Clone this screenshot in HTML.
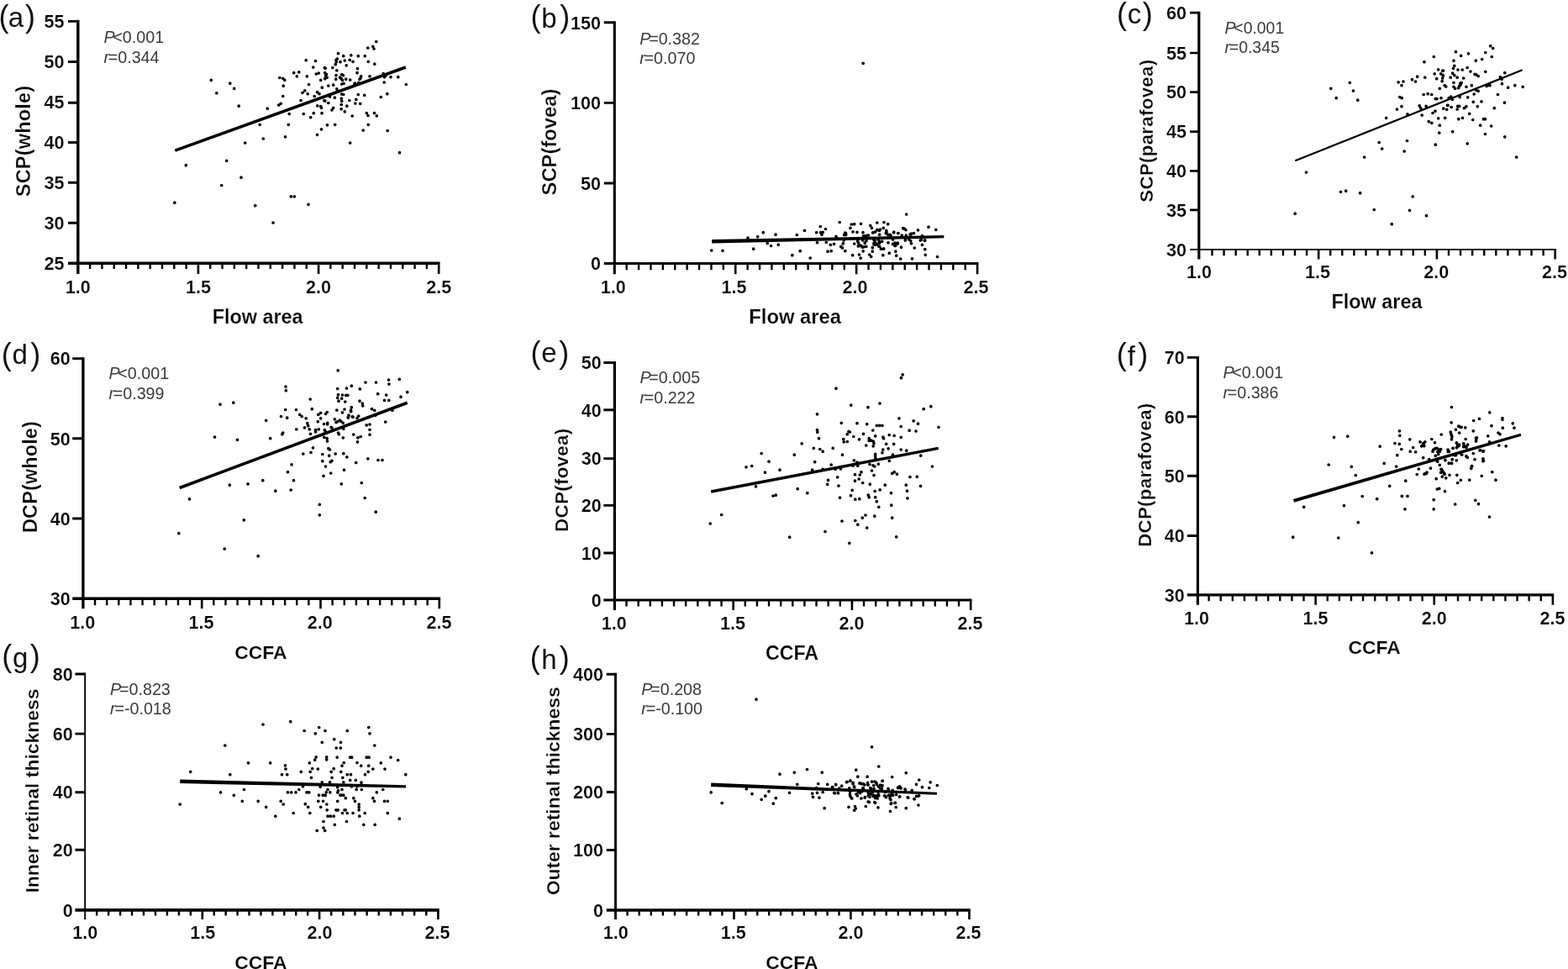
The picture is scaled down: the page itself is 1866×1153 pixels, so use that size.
<!DOCTYPE html>
<html lang="en">
<head>
<meta charset="utf-8">
<title>Correlation scatter plots</title>
<style>
html,body{margin:0;padding:0;background:#fff;}
body{width:1866px;height:1153px;overflow:hidden;}
svg{display:block;}
svg path{stroke:#000;fill:none;}
svg path.p{stroke-linecap:round;}
svg path.f{stroke:none;fill:#000;}
svg text{font-family:"Liberation Sans",sans-serif;fill:#000;}
svg .t, svg .t text{font-weight:bold;stroke:#fff;stroke-width:0.2px;}
svg .t.y{stroke-width:0.3px;}
svg .s text{fill:#3a3a3a;}
svg .g{fill:#111;}
</style>
</head>
<body>
<svg width="1866" height="1153" viewBox="0 0 1866 1153">
<rect width="1866" height="1153" fill="#fff"/>
<g id="panel-a">
<path d="M92.8 23.85V325.9" stroke-width="3.4"/>
<path d="M81 313.3H523.5" stroke-width="3.4"/>
<path d="M81 25.4H92.8M81 73.5H92.8M81 122.3H92.8M81 169.5H92.8M81 217.3H92.8M81 265.3H92.8" stroke-width="2.9"/>
<path d="M235.93 313.3V325.9M379.07 313.3V325.9M522.2 313.3V325.9" stroke-width="2.6"/>
<path d="M107.11 313.3V319.9M121.43 313.3V319.9M135.74 313.3V319.9M150.05 313.3V319.9M164.37 313.3V319.9M178.68 313.3V319.9M192.99 313.3V319.9M207.31 313.3V319.9M221.62 313.3V319.9M250.25 313.3V319.9M264.56 313.3V319.9M278.87 313.3V319.9M293.19 313.3V319.9M307.5 313.3V319.9M321.81 313.3V319.9M336.13 313.3V319.9M350.44 313.3V319.9M364.75 313.3V319.9M393.38 313.3V319.9M407.69 313.3V319.9M422.01 313.3V319.9M436.32 313.3V319.9M450.63 313.3V319.9M464.95 313.3V319.9M479.26 313.3V319.9M493.57 313.3V319.9M507.89 313.3V319.9" stroke-width="2.4"/>
<g class="t" font-size="21.6" text-anchor="end">
<text x="76.6" y="33.03">55</text>
<text x="76.6" y="81.03">50</text>
<text x="76.6" y="129.03">45</text>
<text x="76.6" y="177.03">40</text>
<text x="76.6" y="225.03">35</text>
<text x="76.6" y="273.03">30</text>
<text x="76.6" y="321.03">25</text>
</g>
<g class="t" font-size="21.6" text-anchor="middle">
<text x="92.8" y="348.9">1.0</text>
<text x="235.93" y="348.9">1.5</text>
<text x="379.07" y="348.9">2.0</text>
<text x="522.2" y="348.9">2.5</text>
</g>
<text class="t" font-size="23.4" text-anchor="middle" x="306.7" y="384.5">Flow area</text>
<text class="t y" font-size="23.5" text-anchor="middle" transform="translate(36 168) rotate(-90)" letter-spacing="0.18">SCP(whole)</text>
<g class="s" font-size="19.7">
<text x="123.4" y="50.9"><tspan font-style="italic">P</tspan><tspan dx="-2.2">&lt;0.001</tspan></text>
<text x="123.4" y="75.4"><tspan font-style="italic">r</tspan><tspan dx="-1.2">=0.344</tspan></text>
</g>
<text class="g" x="-1.6" y="32.2" font-size="33"><tspan font-size="36" dy="-0.7">(</tspan><tspan dy="0.7" dx="-0.6">a</tspan><tspan font-size="36" dy="-0.7" dx="1.8">)</tspan></text>
<path d="M208.3 179.2L482.8 80" stroke-width="3.5"/>
<path class="p" d="M447.8 49.5h0M437.8 57h0M443.8 55.3h0M445 58h0M402.5 63.7h0M408.7 66.7h0M417.8 65.8h0M426.3 66.7h0M434.2 66.7h0M364.2 71.7h0M375.5 72.5h0M401.3 70h0M400.3 73.7h0M405 73.7h0M410.3 72h0M416.2 71.3h0M420 73.3h0M438.3 73.3h0M445.8 76.2h0M372.8 80h0M386.3 80.5h0M395.8 80.5h0M399.2 76.7h0M412.2 77.8h0M425.5 81.7h0M400.8 83.8h0M349.7 86.7h0M355.8 85.8h0M353.3 90.8h0M365.3 90.8h0M376.3 88h0M379.2 87h0M386.7 86.7h0M387.5 90h0M400 89.7h0M406.7 88.7h0M425 86.7h0M429.7 90.8h0M440 90.8h0M456.2 87.5h0M457.5 91.7h0M465 91.7h0M473.8 91.7h0M251.3 95.3h0M332.8 92.5h0M336.7 93.3h0M338.8 95.3h0M381.7 95.3h0M386.7 93.7h0M399.7 94.2h0M406.2 93.7h0M407.5 95.3h0M411.7 94.2h0M416.7 95h0M428 94.2h0M273.8 99.2h0M278.7 105.3h0M337.2 102.2h0M367.5 100.5h0M390.8 102h0M396.7 101.2h0M406.7 100h0M422.5 99.2h0M426.7 98.3h0M457.2 98h0M483.3 100.5h0M383.3 104.2h0M400.8 105.8h0M257.8 110.8h0M360 110.3h0M362.8 107.8h0M366.2 111.7h0M377.5 109.7h0M380 111.7h0M374.2 114.5h0M336.7 114.5h0M401.3 109.2h0M406.7 112h0M426.3 112.5h0M433.7 113.3h0M460.8 111.7h0M453.3 115.5h0M358 119.5h0M385.8 119.5h0M392.5 115h0M398.3 116.2h0M406.3 117.2h0M406.7 120.3h0M415.8 119.5h0M423.8 118.3h0M390.8 122.5h0M422.8 123h0M428.7 123.3h0M284.2 126.2h0M318.3 129.2h0M331.7 125h0M334.2 123.3h0M377.8 125.8h0M381.7 126.7h0M382.5 128.3h0M396.7 128.3h0M395 130.8h0M406.2 124.5h0M412.8 126.2h0M406.2 129.7h0M410.3 132.8h0M344.2 135.5h0M361.2 135.5h0M373.3 134.7h0M369.7 139.7h0M383 134.7h0M419.2 138h0M436.3 134.5h0M438 137.5h0M445.5 134.5h0M448.3 137.8h0M309.2 148.3h0M343.3 148.3h0M389.5 148.8h0M398.7 148.3h0M438.3 148.3h0M382.5 153.8h0M432.2 155h0M461.2 155.5h0M377.5 160.3h0M313.3 165h0M339.5 162.8h0M291.7 170h0M416.7 170h0M475.5 181.7h0M269.7 191.3h0M221.3 196.7h0M287 211.2h0M263.7 220.5h0M207.8 241.2h0M303.7 244.7h0M346.3 233.8h0M350.3 233.8h0M367 243.3h0M325 265h0M387.2 81.3h0M388.4 88.4h0M389.1 92.2h0M409 99.3h0M404.5 92.2h0M408.4 89.7h0M429 92.9h0M421.9 99.6h0M400 71.6h0M386.8 120.2h0M408.7 112.5h0M457.9 90.9h0M459.2 89.7h0" stroke-width="3.7"/>
</g>
<g id="panel-b">
<path d="M731.3 25.35V326.3" stroke-width="3.1"/>
<path d="M718.8 313.5H1164.4" stroke-width="2.9"/>
<path d="M718.8 26.8H731.3M718.8 122.37H731.3M718.8 217.93H731.3" stroke-width="2.9"/>
<path d="M875.23 313.5V326.3M1019.17 313.5V326.3M1163.1 313.5V326.3" stroke-width="2.6"/>
<path d="M745.69 313.5V321.3M760.09 313.5V321.3M774.48 313.5V321.3M788.87 313.5V321.3M803.27 313.5V321.3M817.66 313.5V321.3M832.05 313.5V321.3M846.45 313.5V321.3M860.84 313.5V321.3M889.63 313.5V321.3M904.02 313.5V321.3M918.41 313.5V321.3M932.81 313.5V321.3M947.2 313.5V321.3M961.59 313.5V321.3M975.99 313.5V321.3M990.38 313.5V321.3M1004.77 313.5V321.3M1033.56 313.5V321.3M1047.95 313.5V321.3M1062.35 313.5V321.3M1076.74 313.5V321.3M1091.13 313.5V321.3M1105.53 313.5V321.3M1119.92 313.5V321.3M1134.31 313.5V321.3M1148.71 313.5V321.3" stroke-width="2.4"/>
<g class="t" font-size="21.6" text-anchor="end">
<text x="715" y="34.53">150</text>
<text x="715" y="130.1">100</text>
<text x="715" y="225.67">50</text>
<text x="715" y="321.23">0</text>
</g>
<g class="t" font-size="21.6" text-anchor="middle">
<text x="729.7" y="349.4">1.0</text>
<text x="873.63" y="349.4">1.5</text>
<text x="1017.57" y="349.4">2.0</text>
<text x="1161.5" y="349.4">2.5</text>
</g>
<text class="t" font-size="23.8" text-anchor="middle" x="946.2" y="384.8">Flow area</text>
<text class="t y" font-size="23.8" text-anchor="middle" transform="translate(661.8 169) rotate(-90)">SCP(fovea)</text>
<g class="s" font-size="19.7">
<text x="761.2" y="52.6"><tspan font-style="italic">P</tspan><tspan dx="-2.2">=0.382</tspan></text>
<text x="761.2" y="76"><tspan font-style="italic">r</tspan><tspan dx="-1.2">=0.070</tspan></text>
</g>
<text class="g" x="631.5" y="33" font-size="33"><tspan font-size="36" dy="-1.5">(</tspan><tspan dy="1.5" dx="0.8">b</tspan><tspan font-size="36" dy="-1.5" dx="3.6">)</tspan></text>
<path class="f" d="M847.24 289.4L1123.33 283.3L1123.27 280.1L847.16 285Z"/>
<path class="p" d="M1078.7 255h0M999.2 264.5h0M1043.8 265h0M1052 264.5h0M1056.7 266.7h0M1013.3 267h0M1016.7 266.7h0M1024.5 266.3h0M1035.8 268.3h0M976.3 269.5h0M982.5 272.5h0M1012 271.3h0M1037.5 271.3h0M1051.3 271.3h0M1043.8 273.3h0M1047.5 273h0M1076.3 272.2h0M1105 270.2h0M1113.8 273.3h0M1092.5 273.8h0M957.5 274.3h0M908.3 276.7h0M971.7 276.7h0M976.7 276.7h0M979.2 276.3h0M978 279.2h0M1005.8 277.2h0M1006.7 279.5h0M1015 275.8h0M1020 276.3h0M1027 276.7h0M1039.2 276.7h0M1041.7 275.8h0M1055 275.8h0M1063.7 276.7h0M1068.7 277.5h0M1087.5 277.5h0M1083.7 279.2h0M923 279.2h0M948.3 279.5h0M901.7 281.7h0M890 283h0M995 281.3h0M996.7 284.2h0M1027.5 280.8h0M1032.5 280h0M1046.7 279.2h0M1056.7 279.2h0M1060 280h0M1073.3 280h0M1078.3 280h0M1097.5 280.5h0M1004.2 285.8h0M1020.8 285h0M1026.7 285.8h0M1040 285.3h0M1045 285h0M1062.5 285h0M1077.5 285h0M1081.7 285h0M1096.7 285h0M1100.8 285.8h0M972.5 288.7h0M983.3 288.3h0M913.3 289.5h0M917.5 292.5h0M926.3 291.2h0M988.3 291.3h0M992.5 290.3h0M1003.3 290h0M1016.7 290h0M1021.7 289.2h0M1024.2 292h0M1029.2 289.2h0M1030.8 293.3h0M1040 289.2h0M1043.3 290h0M1046.7 289.2h0M1046.7 293.3h0M1057 288.8h0M1065 289.2h0M1068.3 290h0M1065 292.5h0M1084.5 289.7h0M1097.5 291.3h0M896.7 296.2h0M1000.8 293.3h0M1002.5 295h0M1026.7 294.2h0M1038.3 294.7h0M1051.7 295.8h0M1072.5 294.2h0M1088.3 295h0M1100.8 296.7h0M846.7 298h0M860 298.3h0M952.2 298.7h0M985 299.2h0M989.2 298.7h0M1005.8 298.7h0M1027.2 298.8h0M1038.3 299.2h0M1065.8 299.2h0M1058.3 301.2h0M942.8 303.7h0M1014.7 303.7h0M1022.5 303h0M1034.7 303h0M1036.7 305.3h0M1050.8 303.7h0M1066.7 304.2h0M1101.3 303.3h0M1115.5 305.5h0M964.2 307h0M1024.2 307h0M1071.7 308h0M1085.5 307.8h0M1027.2 75.3h0M1020.7 287.2h0M1031 286.5h0M1041.3 287.2h0M1046.4 287.2h0M1049.7 287.2h0M1042.6 291h0M1040 291h0M1045.8 292.9h0M1048.4 296.2h0M1051.6 296.2h0M1062.5 290.4h0M1065.7 292.3h0M1068.3 289.1h0M1065.1 289.1h0M1028.4 293.6h0M1025.2 292.9h0M1021.4 292.9h0M1063.8 276.2h0M1078 273.6h0M1074.7 271.7h0M1046.4 274.3h0M1054.8 274.3h0M1054.2 277.5h0M1033.6 280.1h0M1029.7 280.7h0M1038.7 276.9h0M1043.9 273.6h0M1006.6 277.5h0M1004.6 279.4h0M1059.3 279.4h0M1069 277.5h0M1083.1 278.8h0M1084.4 278.2h0M1077.3 285.9h0M1083.7 286.5h0M1095.3 285.9h0M1100.5 286.5h0M1003.4 289.7h0M1000.8 293.6h0" stroke-width="3.7"/>
</g>
<g id="panel-c">
<path d="M1426.8 13.75V308.6" stroke-width="3.2"/>
<path d="M1416.1 296.9H1852" stroke-width="1.8"/>
<path d="M1416.1 15.1H1426.8M1416.1 63H1426.8M1416.1 109.6H1426.8M1416.1 156.6H1426.8M1416.1 203.4H1426.8M1416.1 249.8H1426.8" stroke-width="2.7"/>
<path d="M1569.17 296.9V308.6M1709.93 296.9V308.6M1850.7 296.9V308.6" stroke-width="2.6"/>
<path d="M1442.48 296.9V304.3M1456.55 296.9V304.3M1470.63 296.9V304.3M1484.71 296.9V304.3M1498.78 296.9V304.3M1512.86 296.9V304.3M1526.94 296.9V304.3M1541.01 296.9V304.3M1555.09 296.9V304.3M1583.24 296.9V304.3M1597.32 296.9V304.3M1611.4 296.9V304.3M1625.47 296.9V304.3M1639.55 296.9V304.3M1653.63 296.9V304.3M1667.7 296.9V304.3M1681.78 296.9V304.3M1695.86 296.9V304.3M1724.01 296.9V304.3M1738.09 296.9V304.3M1752.16 296.9V304.3M1766.24 296.9V304.3M1780.32 296.9V304.3M1794.39 296.9V304.3M1808.47 296.9V304.3M1822.55 296.9V304.3M1836.62 296.9V304.3" stroke-width="2.4"/>
<g class="t" font-size="21.6" text-anchor="end">
<text x="1412.1" y="22.83">60</text>
<text x="1412.1" y="70.73">55</text>
<text x="1412.1" y="117.33">50</text>
<text x="1412.1" y="164.33">45</text>
<text x="1412.1" y="211.13">40</text>
<text x="1412.1" y="257.53">35</text>
<text x="1412.1" y="304.63">30</text>
</g>
<g class="t" font-size="21.6" text-anchor="middle">
<text x="1426.9" y="331.1">1.0</text>
<text x="1568.1" y="331.1">1.5</text>
<text x="1709.2" y="331.1">2.0</text>
<text x="1850" y="331.1">2.5</text>
</g>
<text class="t" font-size="23.4" text-anchor="middle" x="1638.5" y="367.2">Flow area</text>
<text class="t y" font-size="22.2" text-anchor="middle" transform="translate(1371.8 155.6) rotate(-90)" letter-spacing="0.35">SCP(parafovea)</text>
<g class="s" font-size="19.4">
<text x="1457.6" y="40.1"><tspan font-style="italic">P</tspan><tspan dx="-2.2">&lt;0.001</tspan></text>
<text x="1457.6" y="63.4"><tspan font-style="italic">r</tspan><tspan dx="-1.2">=0.345</tspan></text>
</g>
<text class="g" x="1329" y="27.8" font-size="33"><tspan font-size="36" dy="0.8">(</tspan><tspan dy="-0.8" dx="0.8">c</tspan><tspan font-size="36" dy="0.8" dx="1.5">)</tspan></text>
<path d="M1541.3 191.2L1811.7 83.3" stroke-width="2.2"/>
<path class="p" d="M1773.8 54.7h0M1776.7 57.5h0M1732.5 61.7h0M1747.5 63.8h0M1767.8 62.5h0M1738.7 66.3h0M1706.3 67.5h0M1775.3 67.5h0M1730 72.2h0M1756.3 72.2h0M1763.7 70.5h0M1695 73.7h0M1730.8 78.3h0M1729.5 81.3h0M1746.2 80.5h0M1711.7 82.8h0M1716.7 84.2h0M1735 83h0M1740.3 83h0M1750 85h0M1767.8 85.3h0M1790.8 86.7h0M1707.2 87.8h0M1714.7 87.8h0M1728.7 87.2h0M1717.5 90h0M1730.8 89.7h0M1755 88.3h0M1759.2 90.5h0M1785.5 91.7h0M1686.7 91.2h0M1680.5 94.7h0M1695.8 92.2h0M1709.7 93.7h0M1716.7 93h0M1726.2 92.2h0M1734.2 92.2h0M1741.7 93h0M1787.2 94.2h0M1664.2 97.8h0M1670 97h0M1684.5 97h0M1716.2 96.7h0M1730 98.3h0M1737.8 99.2h0M1606.3 98.3h0M1668 101.7h0M1719.2 101.7h0M1720.8 103h0M1730 103.3h0M1736.7 102.5h0M1745 103.3h0M1751.3 101.7h0M1769.2 102.5h0M1773 101.7h0M1787.5 99.7h0M1794.7 104.2h0M1802.8 101.7h0M1812.2 103.3h0M1583.8 105.3h0M1610.5 108h0M1713.3 105.3h0M1731.7 105.3h0M1735.8 104.7h0M1756.7 107.2h0M1759.2 108.3h0M1694.2 112.5h0M1699.2 111.7h0M1703.7 112.5h0M1754.2 112h0M1782.5 112.5h0M1590.3 116.7h0M1615.8 119.2h0M1665.8 115.5h0M1668.3 116.7h0M1708.3 117.5h0M1710 117.5h0M1715 116.7h0M1724.2 116.7h0M1726.7 115h0M1728.3 118.3h0M1737.2 115.5h0M1746.7 115.8h0M1753.3 121.3h0M1763 120.8h0M1790.5 122.2h0M1668 126.7h0M1662.5 130h0M1689.2 125.8h0M1697.2 126.3h0M1690.8 128.8h0M1722.5 125.3h0M1717.8 129.2h0M1721.7 130.3h0M1727.2 127.5h0M1734.7 126.3h0M1736.7 126.3h0M1734.2 130h0M1745 126.7h0M1742.5 128.7h0M1758.3 126.7h0M1778.3 128.7h0M1675 135.8h0M1692.2 137h0M1705 134.5h0M1708 132.2h0M1748.7 135.3h0M1649.7 140.3h0M1711.7 140.8h0M1719.7 140.3h0M1735.8 141.7h0M1740.5 140.3h0M1752.8 142.5h0M1765.5 141.7h0M1767.5 141.7h0M1700.3 144.7h0M1703.8 146.3h0M1713.3 149.2h0M1761.7 149.2h0M1774.7 150h0M1712.8 158h0M1728.7 156.7h0M1767.5 159.5h0M1790.8 162.8h0M1641.2 169.5h0M1674.5 167.5h0M1708.3 172.2h0M1746.3 170.8h0M1644.7 177h0M1671.2 180h0M1623.7 187h0M1804.7 187h0M1554.5 205h0M1595.5 228.3h0M1601.7 227.2h0M1618.7 229.7h0M1681.2 233.8h0M1635.3 249.5h0M1677.5 250.3h0M1541.2 254.2h0M1697.5 256.7h0M1656.3 266.7h0M1717.6 84.1h0M1717 89.3h0M1756.8 88.9h0M1738.2 100.8h0M1736.6 102.4h0M1708.6 117.6h0M1736.3 126.6h0M1723.1 125.3h0M1770.7 101.2h0M1739.2 98.6h0" stroke-width="3.7"/>
</g>
<g id="panel-d">
<path d="M98.9 425.15V724.2" stroke-width="3.3"/>
<path d="M86.2 712.2H524.1" stroke-width="3.5"/>
<path d="M86.2 426.6H98.9M86.2 521.8H98.9M86.2 617H98.9" stroke-width="2.9"/>
<path d="M240.2 712.2V724.2M381.5 712.2V724.2M522.8 712.2V724.2" stroke-width="2.6"/>
<path d="M113.03 712.2V720.2M127.16 712.2V720.2M141.29 712.2V720.2M155.42 712.2V720.2M169.55 712.2V720.2M183.68 712.2V720.2M197.81 712.2V720.2M211.94 712.2V720.2M226.07 712.2V720.2M254.33 712.2V720.2M268.46 712.2V720.2M282.59 712.2V720.2M296.72 712.2V720.2M310.85 712.2V720.2M324.98 712.2V720.2M339.11 712.2V720.2M353.24 712.2V720.2M367.37 712.2V720.2M395.63 712.2V720.2M409.76 712.2V720.2M423.89 712.2V720.2M438.02 712.2V720.2M452.15 712.2V720.2M466.28 712.2V720.2M480.41 712.2V720.2M494.54 712.2V720.2M508.67 712.2V720.2" stroke-width="2.4"/>
<g class="t" font-size="21.6" text-anchor="end">
<text x="83.9" y="434.33">60</text>
<text x="83.9" y="529.53">50</text>
<text x="83.9" y="624.73">40</text>
<text x="83.9" y="719.93">30</text>
</g>
<g class="t" font-size="21.6" text-anchor="middle">
<text x="98.3" y="747.8">1.0</text>
<text x="239.6" y="747.8">1.5</text>
<text x="380.8" y="747.8">2.0</text>
<text x="522.5" y="747.8">2.5</text>
</g>
<text class="t" font-size="22.9" text-anchor="middle" x="310.4" y="784">CCFA</text>
<text class="t y" font-size="23.4" text-anchor="middle" transform="translate(43.8 567.5) rotate(-90)" letter-spacing="0.17">DCP(whole)</text>
<g class="s" font-size="19.7">
<text x="129.4" y="450.6"><tspan font-style="italic">P</tspan><tspan dx="-2.2">&lt;0.001</tspan></text>
<text x="129.4" y="475"><tspan font-style="italic">r</tspan><tspan dx="-1.2">=0.399</tspan></text>
</g>
<text class="g" x="1.7" y="433.4" font-size="33"><tspan font-size="36" dy="0.2">(</tspan><tspan dy="-0.2" dx="0.8">d</tspan><tspan font-size="36" dy="0.2" dx="3.3">)</tspan></text>
<path d="M213.7 580.5L484.7 479.2" stroke-width="3.6"/>
<path class="p" d="M402.2 440.8h0M475.3 451.3h0M462.5 452h0M463 457h0M435 455h0M447.5 455h0M418.3 459.2h0M340 460h0M340.3 464.7h0M401.7 462.5h0M412.5 462h0M428.3 462.8h0M484.7 466.7h0M449.7 468.7h0M459.7 470h0M477 472.2h0M402.5 469.7h0M407.5 470h0M411.7 470.3h0M413.8 470.3h0M401.7 473.3h0M406.7 474.2h0M369.2 475h0M457.5 476.3h0M462.8 476.3h0M403 477.2h0M410.8 478h0M428 477.2h0M431.3 480h0M431.7 482.8h0M262 481.2h0M277.8 479.2h0M339.7 487.5h0M352.5 487.5h0M371.3 486.7h0M400.8 488h0M410 487h0M418.3 484.7h0M417.5 488h0M407.5 490.8h0M389.2 490.5h0M387.5 492.5h0M381.7 491.3h0M378.8 493.3h0M442.5 486.7h0M445.8 488.3h0M467 488.3h0M446.7 494.2h0M334.5 495.5h0M341.7 497.2h0M356.7 493.3h0M359.2 495.5h0M364.2 497.8h0M381.7 497.8h0M398.3 498.8h0M414.2 496.7h0M415 494.2h0M419.2 495.8h0M426.7 495h0M425 497.5h0M316.7 500.3h0M378.3 501.7h0M385.5 504.5h0M389.7 503.3h0M401.7 501.7h0M405.8 501.3h0M408.3 503.3h0M365.8 503.7h0M366.7 506.7h0M362.5 508.8h0M436.2 505.8h0M440 505h0M458.7 502h0M352.8 510.8h0M368.3 510.8h0M375.5 511.7h0M379.2 510.8h0M386.3 511.7h0M395 509.2h0M408.8 510.3h0M440 511.3h0M336.7 515h0M335.8 516.7h0M369.5 516.3h0M402.5 515h0M403.3 516.7h0M420.8 517h0M440 517.2h0M255.5 520h0M282.5 523.3h0M321.7 521.7h0M385.8 520.3h0M389.2 521.7h0M389.5 525h0M408.3 520.8h0M425.8 520.8h0M429.2 519.5h0M425.5 525.8h0M372.5 532.8h0M370 538.3h0M360.8 540h0M390.8 533.7h0M392.5 535h0M383.8 540.5h0M391.7 542.2h0M399.2 540h0M408.8 539.7h0M412.8 543.8h0M383.8 548.7h0M395 548.3h0M393.3 549.7h0M387.5 555h0M423.7 550.5h0M437.8 545.8h0M450 547.5h0M455 547.5h0M347 552.8h0M342.5 561.7h0M409.5 559.2h0M393.7 563h0M385 566.3h0M312.8 571.7h0M349.5 571.7h0M295 575.8h0M273.3 577.2h0M406.3 575.8h0M430.3 574.5h0M327.8 584.2h0M346.2 583h0M225.5 593.8h0M434.2 592.5h0M380.3 600.3h0M447.2 609.2h0M380.3 612.8h0M290.3 618.8h0M212.8 634.7h0M267.2 653h0M307.2 661.7h0M404.5 500h0M414.5 497.1h0M389.7 504.8h0M375.6 513.8h0M387.2 513.2h0M417.7 489.7h0M420 496.2h0M394.2 508.4h0M400 502.6h0" stroke-width="3.7"/>
</g>
<g id="panel-e">
<path d="M731.4 430.05V726" stroke-width="3.2"/>
<path d="M718.3 714H1156.5" stroke-width="3.2"/>
<path d="M718.3 431.5H731.4M718.3 487.8H731.4M718.3 545.6H731.4M718.3 601.4H731.4M718.3 658H731.4" stroke-width="2.9"/>
<path d="M872.67 714V726M1013.93 714V726M1155.2 714V726" stroke-width="2.6"/>
<path d="M745.53 714V721.5M759.65 714V721.5M773.78 714V721.5M787.91 714V721.5M802.03 714V721.5M816.16 714V721.5M830.29 714V721.5M844.41 714V721.5M858.54 714V721.5M886.79 714V721.5M900.92 714V721.5M915.05 714V721.5M929.17 714V721.5M943.3 714V721.5M957.43 714V721.5M971.55 714V721.5M985.68 714V721.5M999.81 714V721.5M1028.06 714V721.5M1042.19 714V721.5M1056.31 714V721.5M1070.44 714V721.5M1084.57 714V721.5M1098.69 714V721.5M1112.82 714V721.5M1126.95 714V721.5M1141.07 714V721.5" stroke-width="2.4"/>
<g class="t" font-size="21.6" text-anchor="end">
<text x="715.8" y="439.23">50</text>
<text x="715.8" y="495.53">40</text>
<text x="715.8" y="553.33">30</text>
<text x="715.8" y="609.13">20</text>
<text x="715.8" y="665.73">10</text>
<text x="715.8" y="721.73">0</text>
</g>
<g class="t" font-size="21.6" text-anchor="middle">
<text x="730.8" y="748.8">1.0</text>
<text x="872" y="748.8">1.5</text>
<text x="1013.6" y="748.8">2.0</text>
<text x="1154.6" y="748.8">2.5</text>
</g>
<text class="t" font-size="23.2" text-anchor="middle" x="942.5" y="784.8">CCFA</text>
<text class="t y" font-size="22.4" text-anchor="middle" transform="translate(675.8 571.2) rotate(-90)" letter-spacing="0.29">DCP(fovea)</text>
<g class="s" font-size="19.7">
<text x="761.4" y="456.4"><tspan font-style="italic">P</tspan><tspan dx="-2.2">=0.005</tspan></text>
<text x="761.4" y="480"><tspan font-style="italic">r</tspan><tspan dx="-1.2">=0.222</tspan></text>
</g>
<text class="g" x="631.5" y="431.3" font-size="33"><tspan font-size="36" dy="0.5">(</tspan><tspan dy="-0.5" dx="0.8">e</tspan><tspan font-size="36" dy="0.5" dx="2.5">)</tspan></text>
<path d="M846.2 585L1116.7 533.3" stroke-width="3.4"/>
<path class="p" d="M1074.2 445.8h0M1072.5 449.7h0M995 462.2h0M1012.8 482.2h0M1033 484.7h0M1047 480h0M1099.2 486.7h0M1107.8 483.7h0M972.5 492.8h0M1070 497.8h0M1087.2 500.8h0M1092.5 504.2h0M1001.3 503.3h0M1020 503.7h0M1031.7 504.7h0M1043.3 506.3h0M1046.7 506.3h0M1050 506.3h0M1072.2 507.5h0M1117 508.3h0M972.5 511.7h0M972.8 514.2h0M1010 513.3h0M1008.3 516.7h0M1038.8 512h0M1027.5 516.3h0M1082.2 512.2h0M1090 513h0M974.5 521.7h0M1015.8 519.5h0M1003.8 522.5h0M1022.5 522.8h0M1041.7 518.8h0M1050.8 520h0M1058.3 517.5h0M1064.2 518.3h0M1072.2 520.3h0M1034.2 521.7h0M1036.7 524.2h0M954.2 527.8h0M1004.2 525.8h0M1008.3 525.5h0M1040 527.5h0M1054.7 528.3h0M1063.7 528.3h0M1030.8 530h0M1039.2 530.8h0M968.3 533.3h0M975.8 534.5h0M979.2 537.2h0M991.2 533.3h0M1050.8 535h0M1057.2 533.8h0M1072.2 535h0M1078.7 536.2h0M1050 538.7h0M906.2 539.5h0M945.3 541.2h0M1002.5 541.2h0M1041.7 540.3h0M1062.5 541.2h0M1095.8 542.2h0M915 549.2h0M969.7 549.7h0M1016.3 547.8h0M1020 550h0M1041.7 545h0M1058.3 548.3h0M888 555.8h0M894.7 554.5h0M989.2 553h0M1015 554.2h0M1020.8 554.2h0M1035 552.5h0M1040.8 555h0M1045.3 552.2h0M1109.5 555h0M910.5 562.2h0M928 559.2h0M966.7 559.2h0M979.2 558.3h0M994.2 558.3h0M1000.5 557.8h0M1037.5 560h0M1025 561.7h0M1061.7 563.3h0M1064.2 561.7h0M1067.5 564.2h0M1017.5 564.7h0M1023.3 565h0M1040 565.5h0M996.7 567.8h0M1083 567.5h0M1091.3 567.2h0M985.5 571.3h0M984.7 576.3h0M1017.5 572.2h0M1022.2 570h0M1026.7 574.5h0M1035.3 576.2h0M998 578h0M1053.3 577.2h0M1078.3 577.2h0M1095.5 578.3h0M899.5 578.8h0M949.2 581.7h0M1014.2 583.3h0M1041.2 584.5h0M1047.2 582.8h0M1079.5 584.2h0M960.8 586.7h0M920 590h0M923.3 589.2h0M1012.5 589.7h0M1033.3 589.2h0M1034.2 591.7h0M1060.5 586.7h0M1041.7 591.7h0M999.5 592.2h0M1017.8 594.2h0M1022.8 593.7h0M1043.3 596.7h0M1080 592.8h0M1060.8 601.2h0M1045.8 603.3h0M858.7 612.5h0M1030 613h0M1026.3 616.2h0M1040.8 614.2h0M1061.7 616.2h0M845.3 623h0M1002 620h0M1017.8 619.5h0M1020.8 624.2h0M1031.7 628h0M982 632.5h0M939.7 639.2h0M1066.7 638.8h0M1010.8 646.3h0M1011.4 514h0M1034.2 524.3h0M1039.3 525.2h0M1051.6 521.7h0M1041.6 542.6h0M1039 553.8h0" stroke-width="3.7"/>
</g>
<g id="panel-f">
<path d="M1425.4 423.95V719.8" stroke-width="3.2"/>
<path d="M1412.8 707.8H1849.2" stroke-width="3.2"/>
<path d="M1412.8 425.4H1425.4M1412.8 495.8H1425.4M1412.8 566.3H1425.4M1412.8 637.5H1425.4" stroke-width="2.9"/>
<path d="M1565.63 707.8V719.8M1706.77 707.8V719.8M1847.9 707.8V719.8" stroke-width="2.6"/>
<path d="M1438.61 707.8V715.3M1452.73 707.8V715.3M1466.84 707.8V715.3M1480.95 707.8V715.3M1495.07 707.8V715.3M1509.18 707.8V715.3M1523.29 707.8V715.3M1537.41 707.8V715.3M1551.52 707.8V715.3M1579.75 707.8V715.3M1593.86 707.8V715.3M1607.97 707.8V715.3M1622.09 707.8V715.3M1636.2 707.8V715.3M1650.31 707.8V715.3M1664.43 707.8V715.3M1678.54 707.8V715.3M1692.65 707.8V715.3M1720.88 707.8V715.3M1734.99 707.8V715.3M1749.11 707.8V715.3M1763.22 707.8V715.3M1777.33 707.8V715.3M1791.45 707.8V715.3M1805.56 707.8V715.3M1819.67 707.8V715.3M1833.79 707.8V715.3" stroke-width="2.4"/>
<g class="t" font-size="21.6" text-anchor="end">
<text x="1409.9" y="433.13">70</text>
<text x="1409.9" y="503.53">60</text>
<text x="1409.9" y="574.03">50</text>
<text x="1409.9" y="645.23">40</text>
<text x="1409.9" y="715.53">30</text>
</g>
<g class="t" font-size="21.6" text-anchor="middle">
<text x="1424" y="742.7">1.0</text>
<text x="1565.4" y="742.7">1.5</text>
<text x="1706.7" y="742.7">2.0</text>
<text x="1847.5" y="742.7">2.5</text>
</g>
<text class="t" font-size="22.9" text-anchor="middle" x="1635.7" y="777.8">CCFA</text>
<text class="t y" font-size="22.2" text-anchor="middle" transform="translate(1370 565.1) rotate(-90)" letter-spacing="0.35">DCP(parafovea)</text>
<g class="s" font-size="19.7">
<text x="1455.4" y="449.9"><tspan font-style="italic">P</tspan><tspan dx="-2.2">&lt;0.001</tspan></text>
<text x="1455.4" y="473.6"><tspan font-style="italic">r</tspan><tspan dx="-1.2">=0.386</tspan></text>
</g>
<text class="g" x="1328.8" y="434.8" font-size="33"><tspan font-size="36" dy="-1">(</tspan><tspan dy="1" dx="0.9">f</tspan><tspan font-size="36" dy="-1" dx="3.3">)</tspan></text>
<path class="f" d="M1540.04 597.67L1810.45 518.74L1809.55 515.66L1538.96 593.93Z"/>
<path class="p" d="M1727.5 484.5h0M1772.8 490.8h0M1760.5 498.3h0M1753.7 500.5h0M1788 497.5h0M1788 499.2h0M1727.2 502.8h0M1800.3 503.8h0M1802 509.2h0M1775 506.7h0M1788.3 509.2h0M1735.8 507.2h0M1739.2 508.3h0M1743.8 508.8h0M1732.5 511.2h0M1753.3 512.8h0M1726.3 514.2h0M1736.7 515h0M1783 515h0M1785 516.7h0M1770.8 518.8h0M1665.5 512.8h0M1665.8 518.3h0M1587.5 520.3h0M1603.8 519.2h0M1715.3 517h0M1727.5 518.3h0M1727.5 522.8h0M1744.2 522.5h0M1757.5 520.8h0M1756.7 524.2h0M1677.8 522.8h0M1703.8 522.5h0M1707.5 526.7h0M1690 525.8h0M1695.8 525.8h0M1694.2 528.3h0M1691.7 530.8h0M1733.3 527h0M1736.7 529.2h0M1741.7 528.3h0M1746.7 529.2h0M1772.5 525.8h0M1771.7 528.3h0M1660 527.5h0M1665.3 528.3h0M1642.2 531.2h0M1681.7 532.5h0M1667.8 534.5h0M1709.2 533.3h0M1712.5 535h0M1723.3 535.5h0M1729.2 533.3h0M1734.2 531.7h0M1741.7 531.7h0M1745 532.5h0M1783.8 530h0M1792.2 530.8h0M1678.3 537.2h0M1684.7 537.8h0M1705 537.2h0M1710.8 537.5h0M1711.7 540.5h0M1723.3 537.5h0M1761.7 535.5h0M1765.5 536.7h0M1753.3 539.5h0M1662.8 541.7h0M1693.7 544.7h0M1700.8 546.7h0M1729.2 540.8h0M1732.5 541.7h0M1739.2 540.8h0M1745 542.5h0M1746.3 544.5h0M1755 546.7h0M1765 545.8h0M1765.5 548.3h0M1720 547.8h0M1728.3 546.7h0M1733.3 547.8h0M1724.2 551.2h0M1727.5 551.2h0M1710.8 549.2h0M1581.2 553h0M1608.3 555.3h0M1647.2 551.3h0M1661.7 555h0M1713.3 553.3h0M1751.7 554.7h0M1750.8 557.5h0M1688.3 558h0M1702.5 557.2h0M1715 558.3h0M1716.7 560.8h0M1718.3 563.3h0M1695 564.2h0M1697.5 563.3h0M1686.3 564.5h0M1613.3 565.5h0M1725 565.3h0M1733.8 565.3h0M1716.3 567.2h0M1720.8 568.8h0M1709.2 569.7h0M1775.8 561.7h0M1763.3 566.3h0M1780 571.2h0M1672.8 572.2h0M1738.3 571.3h0M1734.7 574.5h0M1748.8 571.2h0M1653.7 578.3h0M1710.3 582h0M1712.8 581.3h0M1719.5 584.7h0M1621.2 590.5h0M1638.7 593.7h0M1668.3 590.3h0M1675 590.3h0M1706.2 594.7h0M1755.8 595.3h0M1759.5 599.7h0M1731.7 600h0M1551.7 603.3h0M1599.5 601.7h0M1672 605.8h0M1706.2 605.8h0M1772.5 615h0M1616.3 621.7h0M1538.7 639.2h0M1592.8 640h0M1632.5 657.8h0M1736.6 507.6h0M1738.5 508.5h0M1726.9 516.6h0M1727.9 519.8h0M1692.9 530.1h0M1694.8 530.7h0M1693.5 527.5h0M1705.7 535.2h0M1707.7 533.9h0M1710.2 533.3h0M1714.7 534.6h0M1713.4 537.2h0M1733.4 526.9h0M1734.7 529.4h0M1735.9 530.7h0M1728.9 533.3h0M1733.4 532.7h0M1741.7 527.5h0M1743 530.7h0M1745 532h0M1723.1 535.2h0M1724.4 537.2h0M1756.5 521.1h0M1756.5 524.9h0M1761 535.9h0M1764.9 537.2h0M1719.9 547.4h0M1728.2 546.8h0M1724.4 551.3h0M1727.6 551.3h0M1745 542.9h0M1746.2 544.2h0M1739.8 541h0M1731.4 541.7h0M1715.4 558.4h0M1716.7 560.3h0M1714.7 562.2h0M1718.6 562.9h0M1719.2 564.2h0M1696.1 563.5h0M1698 562.2h0M1764.9 546.2h0M1764.9 548.7h0M1751.4 554.5h0M1750.7 557.1h0M1710.2 548.7h0M1708.3 542.3h0" stroke-width="3.7"/>
</g>
<g id="panel-g">
<path d="M101.2 800.55V1093.9" stroke-width="1.9"/>
<path d="M89.4 1082.9H522.7" stroke-width="3.6"/>
<path d="M89.4 802H101.2M89.4 873.1H101.2M89.4 942.7H101.2M89.4 1011.2H101.2" stroke-width="2.9"/>
<path d="M240.8 1082.9V1093.9M380.1 1082.9V1093.9M521.4 1082.9V1093.9" stroke-width="2.6"/>
<path d="M115.16 1082.9V1089.4M129.12 1082.9V1089.4M143.08 1082.9V1089.4M157.04 1082.9V1089.4M171 1082.9V1089.4M184.96 1082.9V1089.4M198.92 1082.9V1089.4M212.88 1082.9V1089.4M226.84 1082.9V1089.4M254.73 1082.9V1089.4M268.66 1082.9V1089.4M282.59 1082.9V1089.4M296.52 1082.9V1089.4M310.45 1082.9V1089.4M324.38 1082.9V1089.4M338.31 1082.9V1089.4M352.24 1082.9V1089.4M366.17 1082.9V1089.4M394.23 1082.9V1089.4M408.36 1082.9V1089.4M422.49 1082.9V1089.4M436.62 1082.9V1089.4M450.75 1082.9V1089.4M464.88 1082.9V1089.4M479.01 1082.9V1089.4M493.14 1082.9V1089.4M507.27 1082.9V1089.4" stroke-width="2.4"/>
<g class="t" font-size="21.6" text-anchor="end">
<text x="86.7" y="809.73">80</text>
<text x="86.7" y="880.83">60</text>
<text x="86.7" y="950.43">40</text>
<text x="86.7" y="1018.93">20</text>
<text x="86.7" y="1090.63">0</text>
</g>
<g class="t" font-size="21.6" text-anchor="middle">
<text x="101.2" y="1117">1.0</text>
<text x="241.3" y="1117">1.5</text>
<text x="380.5" y="1117">2.0</text>
<text x="520.4" y="1117">2.5</text>
</g>
<text class="t" font-size="22.9" text-anchor="middle" x="310.4" y="1152.8">CCFA</text>
<text class="t y" font-size="22.9" text-anchor="middle" transform="translate(45.8 941.1) rotate(-90)">Inner retinal thickness</text>
<g class="s" font-size="19.7">
<text x="131.1" y="826.9"><tspan font-style="italic">P</tspan><tspan dx="-2.2">=0.823</tspan></text>
<text x="131.1" y="850.1"><tspan font-style="italic">r</tspan><tspan dx="-1.2">=-0.018</tspan></text>
</g>
<text class="g" x="2.2" y="794.2" font-size="33"><tspan font-size="36" dy="-1.5">(</tspan><tspan dy="1.5" dx="0.8">g</tspan><tspan font-size="36" dy="-1.5" dx="2.5">)</tspan></text>
<path class="f" d="M214.15 932.1L482.96 937.45L483.04 934.35L214.25 927.5Z"/>
<path class="p" d="M345.8 858.7h0M313 862h0M379.7 865.5h0M362.2 869.5h0M387 869.5h0M375.3 872.8h0M413.3 869.5h0M438.8 865.5h0M440 872.8h0M397.8 879.7h0M383.3 883.3h0M405.5 883.3h0M267.8 887h0M445.8 887h0M400.3 890h0M405.3 890h0M376.2 900.8h0M374.7 904.2h0M388.7 900.8h0M388.7 903.8h0M401.2 901.2h0M416.7 901.2h0M418.7 901.2h0M436.2 901.2h0M439.2 901.2h0M465 901.2h0M473.7 904.5h0M295.5 907.8h0M321.7 907.8h0M368.3 907.8h0M409.2 907.5h0M407 911.2h0M425 907.5h0M429.7 911.2h0M438.7 911.2h0M453.3 907.8h0M339.5 910.8h0M340 915h0M371.7 914.5h0M378.3 915h0M397.2 914.7h0M443.8 915h0M458 915h0M226.7 918.3h0M358.3 918.3h0M369.2 918.3h0M394.2 918.3h0M405.8 918.3h0M438.3 918.3h0M273.8 921.7h0M335.5 921.7h0M341.7 921.7h0M413.3 921.7h0M417.5 921.7h0M434.5 921.7h0M482.8 921.7h0M370.5 925.3h0M395 925.3h0M407.8 925.3h0M416.7 928.3h0M423.3 928.3h0M383.3 930.8h0M392.5 930.8h0M408.8 930.8h0M430 931.2h0M360.5 935.8h0M381.2 936.2h0M418.3 935.8h0M401.7 936.7h0M425 935.8h0M290.5 939.5h0M355.8 939.5h0M390 939.5h0M407 939.5h0M424.2 939.5h0M430.3 939.5h0M455.8 939.5h0M402.5 940.8h0M262.5 942.8h0M342.5 942.8h0M346.7 942.8h0M352 942.8h0M365 942.8h0M367.8 942.8h0M388.3 942.8h0M392.8 942.8h0M448.3 942.8h0M278.3 946.3h0M379.5 946.2h0M384.2 946.2h0M387 946.2h0M405 946.2h0M408.8 946.2h0M411.3 949.7h0M420.8 949.7h0M443.8 949.7h0M288.3 953.3h0M307.2 953.3h0M334.2 953.3h0M378.8 953.3h0M384.5 953.3h0M401.7 953.3h0M422.5 953.3h0M445.5 953.3h0M457.5 953.3h0M461.3 953.3h0M214.2 957h0M337.2 957h0M363.3 956.7h0M388.8 957h0M427.2 957h0M316.7 960.3h0M366.7 960.3h0M381.7 960.3h0M427.2 960.3h0M389.2 963.8h0M400 963.8h0M402.2 963.8h0M410 963.8h0M411.2 963.8h0M427.2 963.8h0M349.2 967.5h0M368.8 967.5h0M407.5 967.5h0M413.3 967.5h0M420 967.5h0M434.2 967.5h0M461.3 967.5h0M327.8 971.2h0M390 971.2h0M393.3 971.2h0M397.2 971.2h0M427.8 971.2h0M475.3 974.2h0M385 977.5h0M412.5 977.5h0M398.3 981.3h0M432.8 981.3h0M446.2 981.3h0M385 985h0M377.2 988.3h0M386.7 988.3h0M401.9 942.9h0M406.4 946.1h0M387.2 946.4h0M418 901.1h0M437.3 901.1h0" stroke-width="3.7"/>
</g>
<g id="panel-h">
<path d="M732.5 800.85V1094" stroke-width="2.9"/>
<path d="M721.7 1083H1154.8" stroke-width="3.6"/>
<path d="M721.7 802.3H732.5M721.7 873.4H732.5M721.7 942.5H732.5M721.7 1011.5H732.5" stroke-width="2.9"/>
<path d="M873.5 1083V1094M1012.4 1083V1094M1153.5 1083V1094" stroke-width="2.6"/>
<path d="M746.6 1083V1089.5M760.7 1083V1089.5M774.8 1083V1089.5M788.9 1083V1089.5M803 1083V1089.5M817.1 1083V1089.5M831.2 1083V1089.5M845.3 1083V1089.5M859.4 1083V1089.5M887.39 1083V1089.5M901.28 1083V1089.5M915.17 1083V1089.5M929.06 1083V1089.5M942.95 1083V1089.5M956.84 1083V1089.5M970.73 1083V1089.5M984.62 1083V1089.5M998.51 1083V1089.5M1026.51 1083V1089.5M1040.62 1083V1089.5M1054.73 1083V1089.5M1068.84 1083V1089.5M1082.95 1083V1089.5M1097.06 1083V1089.5M1111.17 1083V1089.5M1125.28 1083V1089.5M1139.39 1083V1089.5" stroke-width="2.4"/>
<g class="t" font-size="21.6" text-anchor="end">
<text x="718" y="810.03">400</text>
<text x="718" y="881.13">300</text>
<text x="718" y="950.23">200</text>
<text x="718" y="1019.23">100</text>
<text x="718" y="1090.73">0</text>
</g>
<g class="t" font-size="21.6" text-anchor="middle">
<text x="732.7" y="1117.1">1.0</text>
<text x="872.7" y="1117.1">1.5</text>
<text x="1012.6" y="1117.1">2.0</text>
<text x="1152.5" y="1117.1">2.5</text>
</g>
<text class="t" font-size="22.9" text-anchor="middle" x="942.3" y="1153.1">CCFA</text>
<text class="t y" font-size="22.9" text-anchor="middle" transform="translate(666.1 941.3) rotate(-90)">Outer retinal thickness</text>
<g class="s" font-size="19.7">
<text x="763.3" y="826.7"><tspan font-style="italic">P</tspan><tspan dx="-2.2">=0.208</tspan></text>
<text x="763.3" y="849.7"><tspan font-style="italic">r</tspan><tspan dx="-1.2">=-0.100</tspan></text>
</g>
<text class="g" x="630.8" y="795.7" font-size="33"><tspan font-size="36" dy="-0.3">(</tspan><tspan dy="0.3" dx="1.4">h</tspan><tspan font-size="36" dy="-0.3" dx="3.3">)</tspan></text>
<path class="f" d="M846.11 935.9L1114.94 945.7L1115.06 942.7L846.29 931.5Z"/>
<path class="p" d="M900 832.2h0M1037.5 888.8h0M1045.8 912h0M960.5 915.5h0M1018.8 916.2h0M945.3 919.2h0M978.3 919.2h0M928 921.2h0M1078.3 919.7h0M1020.8 924.2h0M1032.2 924.2h0M1061.7 924.5h0M1093.8 928h0M1107.2 930.8h0M1115.3 934.5h0M1090.5 933.3h0M1097.5 936.7h0M1105.8 937.5h0M1050.3 929.2h0M1008.3 930.3h0M1012 929.2h0M1015 932.5h0M1023.3 931.7h0M1027.5 932.8h0M1032.5 933.3h0M1037.5 930h0M1041.2 930h0M1043.3 933.3h0M1047.5 934.2h0M1050 935h0M948.8 933.3h0M973.8 932.5h0M984.7 933.3h0M994.7 933.8h0M1001.7 935h0M971.7 937.5h0M990.5 936.7h0M998.8 938h0M1016.7 936.7h0M1027.5 938h0M1035.8 937.5h0M1040 938.3h0M1047.5 938h0M1057.2 939.2h0M1069.2 937.5h0M1072.2 938h0M1077.5 940h0M1085 940.8h0M888.3 938.7h0M915 941.7h0M846.2 942.8h0M895 944.7h0M939.5 943.3h0M966.7 944.2h0M972.5 943.3h0M979.2 942.5h0M993.3 943.8h0M997.5 943.8h0M1011.7 941.7h0M1021.7 942.5h0M1025.8 941.7h0M1033.3 943.3h0M1038.3 942.5h0M1045 942.2h0M1053.3 942.5h0M1061.7 942.2h0M1066.7 942.8h0M910.8 947.2h0M967.5 948.3h0M975 949.2h0M1011.7 946.7h0M1013.3 949.7h0M1020 946.3h0M1025 950h0M1029.2 949.2h0M1035 948.3h0M1039.2 947.5h0M1043.3 948.3h0M1045.8 946.7h0M1054.2 947.5h0M1059.2 948.3h0M1060.8 945.8h0M1070.8 947.8h0M1080.8 949.2h0M1088.3 950.8h0M1093.3 947h0M906.2 951.3h0M923.3 949.7h0M1033.3 954.2h0M1040.8 954.7h0M1060 951.7h0M1060.8 955.8h0M1065 955.3h0M859.2 955.5h0M920.3 956.2h0M1030.3 959.5h0M1010 960.3h0M1017.5 959.5h0M1018.3 962h0M1016.7 964.2h0M981.2 961.7h0M1045 960.8h0M1066.3 960.5h0M1078.3 961.7h0M1093 958h0M1059.5 965.3h0M1007.5 930.7h0M1012 928.8h0M1015.2 931.4h0M1016.5 935.9h0M1022.9 932h0M1025.5 932.7h0M1028.7 933.9h0M1032.6 931.4h0M1033.2 933.9h0M1037.7 930.1h0M1040.9 930.1h0M1042.9 931.4h0M1039.7 934.6h0M1045.5 935.9h0M1050 934.6h0M1050 929.4h0M1001.7 935.2h0M994.6 933.3h0M990.8 936.5h0M1010.7 937.8h0M1026.8 937.8h0M1036.4 938.4h0M1049.3 938.4h0M1057 938.4h0M1062.2 940.4h0M1068.6 937.2h0M1071.8 937.2h0M1077 939.1h0M1085.3 940.4h0M1070.5 935.9h0M992.7 943.6h0M997.2 943.6h0M1011.4 944.9h0M1012 947.4h0M1013.9 950h0M1019.1 944.9h0M1020.4 946.8h0M1023.6 943.6h0M1024.9 950h0M1029.4 948.7h0M1033.2 946.8h0M1033.9 944.2h0M1036.4 944.9h0M1039.7 946.2h0M1042.9 946.8h0M1041.6 949.4h0M1044.2 950h0M1045.5 945.5h0M1052.5 946.8h0M1054.5 948.7h0M1057.7 946.2h0M1059 950h0M1060.9 944.9h0M1062.8 946.2h0M1066.7 945.5h0M1070.5 948.1h0M1080.2 948.7h0M1087.9 950.7h0M1093.7 946.8h0M1090.5 947.4h0M1033.2 953.9h0M1034.5 954.5h0M1040.9 954.5h0M1041.6 955.2h0M1060.2 956.4h0M1065.4 955.2h0" stroke-width="3.7"/>
</g>
</svg>
</body>
</html>
